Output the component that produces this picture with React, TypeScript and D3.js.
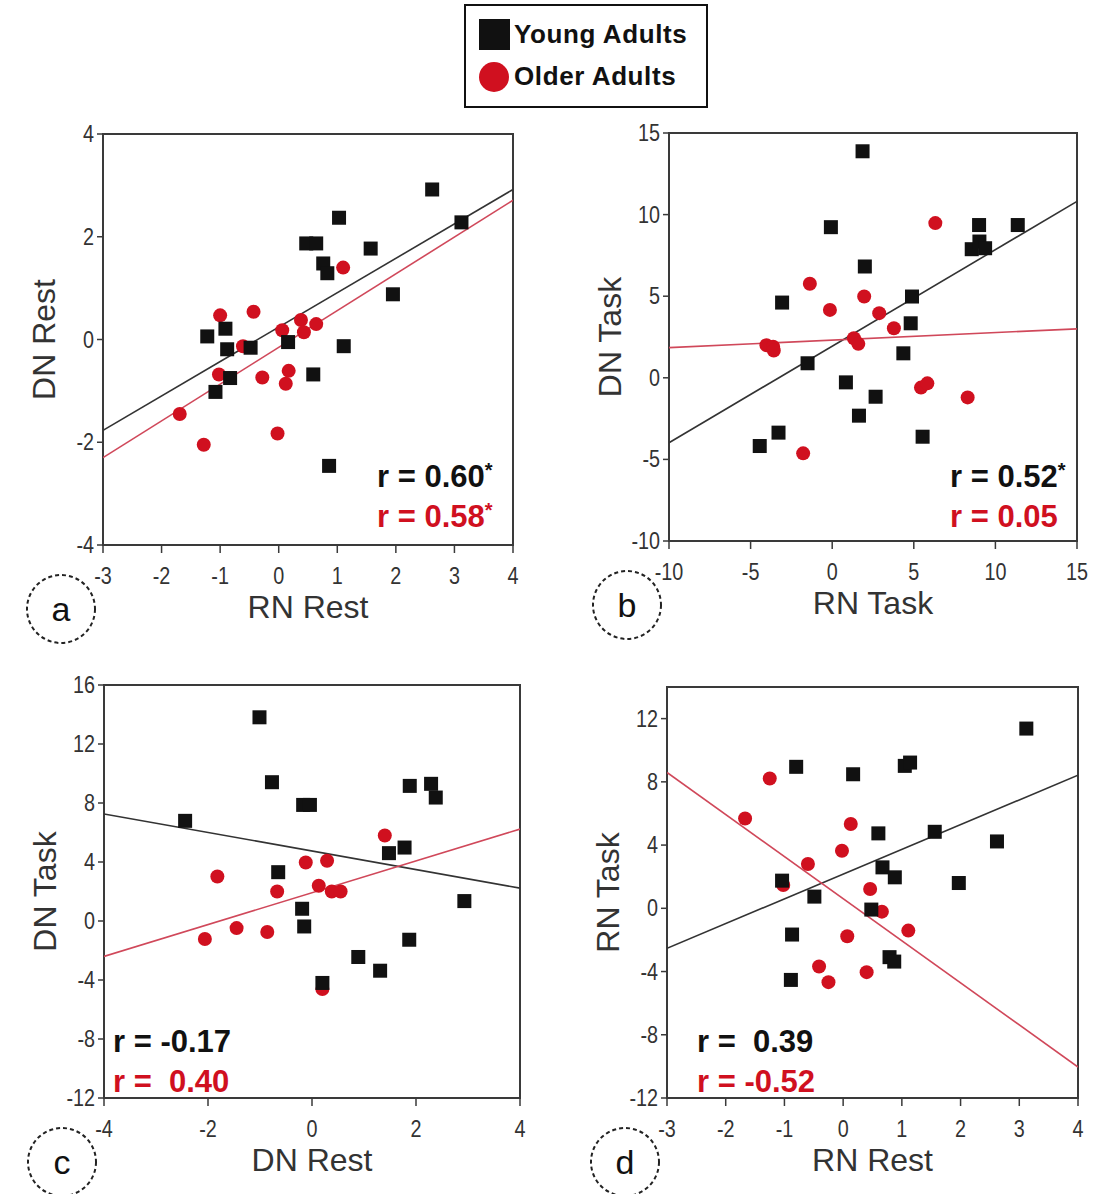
import React from "react";
import * as d3 from "d3";

// panel a: RN Rest vs DN Rest
const aYoung = [[2.62, 2.92], [3.12, 2.28], [1.03, 2.37], [0.47, 1.87], [0.64, 1.87], [1.57, 1.77], [0.76, 1.48], [0.83, 1.29], [1.95, 0.88], [-1.22, 0.06], [-0.91, 0.21], [-0.88, -0.19], [-0.48, -0.16], [0.16, -0.05], [1.11, -0.13], [0.59, -0.68], [-0.83, -0.75], [-1.08, -1.02], [0.86, -2.46]];
const aOlder = [[1.1, 1.4], [-1.0, 0.47], [-0.43, 0.54], [0.38, 0.38], [0.64, 0.3], [0.06, 0.18], [0.43, 0.14], [-0.61, -0.13], [-1.02, -0.68], [0.17, -0.61], [-0.28, -0.74], [0.12, -0.86], [-1.69, -1.45], [-0.02, -1.83], [-1.28, -2.05]];
const aFitYoung = [-1.77, 2.92];
const aFitOlder = [-2.3, 2.71];

// panel b: RN Task vs DN Task
const bYoung = [[1.86, 13.88], [-0.08, 9.23], [9.0, 9.36], [11.37, 9.36], [8.55, 7.88], [9.02, 8.35], [9.37, 7.94], [2.0, 6.82], [-3.07, 4.61], [4.89, 4.98], [4.81, 3.34], [4.36, 1.5], [-1.51, 0.89], [0.84, -0.28], [2.66, -1.16], [1.64, -2.32], [-3.29, -3.36], [5.54, -3.61], [-4.44, -4.18]];
const bOlder = [[6.32, 9.48], [-1.37, 5.76], [1.96, 4.98], [-0.14, 4.16], [2.88, 3.96], [3.78, 3.04], [1.33, 2.42], [1.6, 2.08], [-4.03, 2.0], [-3.62, 1.91], [-3.58, 1.67], [5.44, -0.6], [5.83, -0.34], [8.3, -1.2], [-1.78, -4.63]];
const bFitYoung = [-3.98, 10.81];
const bFitOlder = [1.85, 3.0];

// panel c: DN Rest vs DN Task
const cYoung = [[-1.01, 13.81], [-0.77, 9.41], [1.88, 9.16], [2.29, 9.3], [2.38, 8.37], [-0.17, 7.87], [-0.04, 7.87], [-2.44, 6.79], [1.78, 4.98], [1.48, 4.6], [-0.65, 3.31], [2.93, 1.35], [-0.19, 0.83], [-0.15, -0.37], [1.87, -1.27], [0.89, -2.44], [1.31, -3.37], [0.2, -4.2]];
const cOlder = [[1.4, 5.8], [-0.12, 3.97], [0.29, 4.08], [-1.82, 3.02], [0.13, 2.39], [-0.67, 2.0], [0.38, 2.0], [0.55, 2.0], [-1.45, -0.48], [-0.86, -0.75], [-2.06, -1.22], [0.2, -4.61]];
const cFitYoung = [7.26, 2.23];
const cFitOlder = [-2.4, 6.23];

// panel d: RN Rest vs RN Task
const dYoung = [[3.12, 11.37], [-0.8, 8.95], [0.17, 8.48], [1.05, 9.01], [1.14, 9.22], [0.6, 4.74], [1.56, 4.84], [2.62, 4.23], [0.67, 2.59], [0.88, 1.96], [1.97, 1.6], [-1.04, 1.75], [-0.49, 0.74], [0.48, -0.08], [-0.87, -1.66], [0.79, -3.09], [0.87, -3.37], [-0.89, -4.53]];
const dOlder = [[-1.25, 8.21], [-1.67, 5.68], [0.13, 5.33], [-0.02, 3.64], [-0.6, 2.8], [-1.02, 1.47], [0.46, 1.22], [0.66, -0.21], [1.11, -1.41], [0.07, -1.77], [-0.41, -3.68], [0.4, -4.04], [-0.25, -4.67]];
const dFitYoung = [-2.53, 8.42];
const dFitOlder = [8.59, -10.04];

const seriesNames = ["Young Adults", "Older Adults"];

const RED = "#d0101f";
const LINE_RED = "#d0485a";
const FRAME = "#3a3a3a";
const FONT = "'Liberation Sans', Arial, sans-serif";

const panels = [
  {
    letter: "a", young: aYoung, older: aOlder, fitYoung: aFitYoung, fitOlder: aFitOlder,
    left: 103, right: 513, top: 134, bottom: 545,
    xDom: [-3, 4], yDom: [-4, 4], xTicks: d3.range(-3, 5, 1), yTicks: [-4, -2, 0, 2, 4],
    xTitle: "RN Rest", yTitle: "DN Rest", rYoung: "0.60", rOlder: "0.58", starY: true, starO: true,
    rx: 377, ry: 487,
  },
  {
    letter: "b", young: bYoung, older: bOlder, fitYoung: bFitYoung, fitOlder: bFitOlder,
    left: 669, right: 1077, top: 133, bottom: 541,
    xDom: [-10, 15], yDom: [-10, 15], xTicks: d3.range(-10, 16, 5), yTicks: d3.range(-10, 16, 5),
    xTitle: "RN Task", yTitle: "DN Task", rYoung: "0.52", rOlder: "0.05", starY: true, starO: false,
    rx: 950, ry: 487,
  },
  {
    letter: "c", young: cYoung, older: cOlder, fitYoung: cFitYoung, fitOlder: cFitOlder,
    left: 104, right: 520, top: 685, bottom: 1098,
    xDom: [-4, 4], yDom: [-12, 16], xTicks: d3.range(-4, 5, 2), yTicks: d3.range(-12, 17, 4),
    xTitle: "DN Rest", yTitle: "DN Task", rYoung: "-0.17", rOlder: "\u00a00.40", starY: false, starO: false,
    rx: 113, ry: 1052,
  },
  {
    letter: "d", young: dYoung, older: dOlder, fitYoung: dFitYoung, fitOlder: dFitOlder,
    left: 667, right: 1078, top: 687, bottom: 1098,
    xDom: [-3, 4], yDom: [-12, 14], xTicks: d3.range(-3, 5, 1), yTicks: d3.range(-12, 13, 4),
    xTitle: "RN Rest", yTitle: "RN Task", rYoung: "\u00a00.39", rOlder: "-0.52", starY: false, starO: false,
    rx: 697, ry: 1052,
  },
];

function Panel({ p }: { p: any }) {
  const x = d3.scaleLinear().domain(p.xDom).range([p.left, p.right]);
  const y = d3.scaleLinear().domain(p.yDom).range([p.bottom, p.top]);
  const line = d3.line<number[]>().x((d) => x(d[0])).y((d) => y(d[1]));
  const fitY = [[p.xDom[0], p.fitYoung[0]], [p.xDom[1], p.fitYoung[1]]];
  const fitO = [[p.xDom[0], p.fitOlder[0]], [p.xDom[1], p.fitOlder[1]]];
  const cx = (p.left + p.right) / 2;
  const cy = (p.top + p.bottom) / 2;
  return (
    <g>
      <defs>
        <clipPath id={"clip-" + p.letter}>
          <rect x={p.left} y={p.top} width={p.right - p.left} height={p.bottom - p.top} />
        </clipPath>
      </defs>
      <rect x={p.left} y={p.top} width={p.right - p.left} height={p.bottom - p.top} fill="#fff" stroke={FRAME} strokeWidth={2} />
      {p.xTicks.map((t: number) => (
        <g key={"xt" + t}>
          <line x1={x(t)} x2={x(t)} y1={p.bottom} y2={p.bottom + 8} stroke={FRAME} strokeWidth={1.5} />
          <text transform={`translate(${x(t)},${p.bottom + 39}) scale(0.86,1)`} textAnchor="middle" fontSize={23} fill="#333" fontFamily={FONT}>{t}</text>
        </g>
      ))}
      {p.yTicks.map((t: number) => (
        <g key={"yt" + t}>
          <line x1={p.left - 6} x2={p.left} y1={y(t)} y2={y(t)} stroke={FRAME} strokeWidth={1.5} />
          <text transform={`translate(${p.left - 9},${y(t) + 8}) scale(0.86,1)`} textAnchor="end" fontSize={23} fill="#333" fontFamily={FONT}>{t}</text>
        </g>
      ))}
      <g clipPath={`url(#clip-${p.letter})`}>
        <path d={line(fitY) || ""} stroke="#333" strokeWidth={1.6} fill="none" />
        <path d={line(fitO) || ""} stroke={LINE_RED} strokeWidth={1.6} fill="none" />
        {p.older.map((d: number[], i: number) => (
          <circle key={"o" + i} cx={x(d[0])} cy={y(d[1])} r={7} fill={RED} />
        ))}
        {p.young.map((d: number[], i: number) => (
          <rect key={"y" + i} x={x(d[0]) - 7} y={y(d[1]) - 7} width={14} height={14} fill="#111" />
        ))}
      </g>
      <text x={cx} y={p.bottom + 73} textAnchor="middle" fontSize={32} fill="#333" fontFamily={FONT}>{p.xTitle}</text>
      <text transform={`translate(${p.left - 48},${cy}) rotate(-90)`} textAnchor="middle" fontSize={32} fill="#333" fontFamily={FONT}>{p.yTitle}</text>
      <text x={p.rx} y={p.ry} fontSize={31} fontWeight="bold" fill="#111" fontFamily={FONT} xmlSpace="preserve">
        {"r = " + p.rYoung}
        {p.starY && <tspan fontSize={20} dy={-10}>*</tspan>}
      </text>
      <text x={p.rx} y={p.ry + 40} fontSize={31} fontWeight="bold" fill={RED} fontFamily={FONT} xmlSpace="preserve">
        {"r = " + p.rOlder}
        {p.starO && <tspan fontSize={20} dy={-10}>*</tspan>}
      </text>
      <ellipse cx={p.left - 42} cy={p.bottom + 64} rx={34} ry={34} fill="#fff" stroke="#222" strokeWidth={2} strokeDasharray="4,3" />
      <text x={p.left - 42} y={p.bottom + 76} textAnchor="middle" fontSize={34} fill="#111" fontFamily={FONT}>{p.letter}</text>
    </g>
  );
}

export default function App() {
  return (
    <svg width={1100} height={1194} style={{ position: "absolute", left: 0, top: 0, background: "#fff" }}>
      <rect width={1100} height={1194} fill="#fff" />
      <g>
        <rect x={465} y={5} width={242} height={102} fill="#fff" stroke="#111" strokeWidth={2} />
        <rect x={479} y={19} width={31} height={31} fill="#111" />
        <text x={514} y={43} fontSize={26} fontWeight="bold" fill="#111" fontFamily={FONT} letterSpacing={0.6}>{seriesNames[0]}</text>
        <circle cx={494} cy={77} r={15} fill={RED} />
        <text x={514} y={85} fontSize={26} fontWeight="bold" fill="#111" fontFamily={FONT} letterSpacing={0.6}>{seriesNames[1]}</text>
      </g>
      {panels.map((p) => (
        <Panel key={p.letter} p={p} />
      ))}
    </svg>
  );
}
